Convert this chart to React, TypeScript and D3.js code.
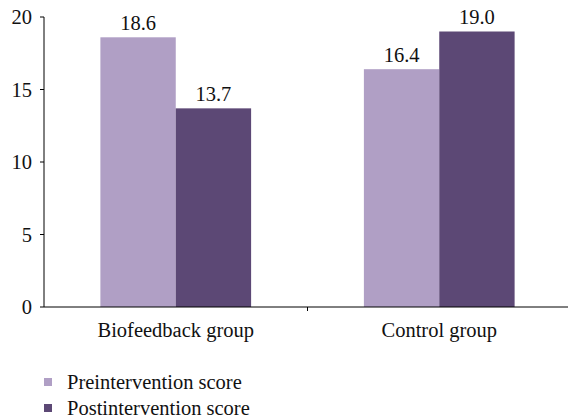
import React from "react";
import * as d3 from "d3";

const categories = ["Biofeedback group", "Control group"];
const seriesNames = ["Preintervention score", "Postintervention score"];
const preValues = [18.6, 16.4];
const postValues = [13.7, 19.0];
const yTicks = [0, 5, 10, 15, 20];
const colors = ["#b09fc5", "#5c4875"];

const W = 568;
const H = 419;
const FONT = '"Liberation Serif", "DejaVu Serif", serif';

export default function App() {
  const x0 = d3.scaleBand<string>().domain(categories).range([44, 571]).paddingInner(0).paddingOuter(0);
  const bw = x0.bandwidth();
  const barW = bw * 0.286;
  const y = d3.scaleLinear().domain([0, 20]).range([307, 17]);
  const series = [preValues, postValues];
  const fs = 20.5;

  return (
    <svg width={W} height={H} style={{ position: "absolute", left: 0, top: 0, background: "#fff", fontFamily: FONT }}>
      {categories.map((c, i) => {
        const cx = (x0(c) as number) + bw / 2;
        return (
          <g key={c}>
            {series.map((vals, s) => {
              const v = vals[i];
              const bx = cx - barW + s * barW;
              return (
                <g key={s}>
                  <rect x={bx} y={y(v)} width={barW} height={y(0) - y(v)} fill={colors[s]} />
                  <text x={bx + barW / 2} y={y(v) - 7.5} textAnchor="middle" fontSize={fs} fill="#111">
                    {v.toFixed(1)}
                  </text>
                </g>
              );
            })}
            <text x={cx} y={337} textAnchor="middle" fontSize={fs} fill="#111">
              {c}
            </text>
          </g>
        );
      })}
      {/* y axis */}
      <line x1={44} x2={44} y1={y(20)} y2={y(0)} stroke="#000" strokeWidth={1} />
      {yTicks.map((t) => (
        <g key={t}>
          <line x1={40} x2={44} y1={y(t)} y2={y(t)} stroke="#000" strokeWidth={1} />
          <text x={32} y={y(t) + 7} textAnchor="end" fontSize={fs} fill="#111">
            {t}
          </text>
        </g>
      ))}
      {/* x axis */}
      <line x1={44} x2={571} y1={y(0)} y2={y(0)} stroke="#000" strokeWidth={1} />
      {categories.map((c) => (
        <line key={c} x1={(x0(c) as number) + bw} x2={(x0(c) as number) + bw} y1={y(0)} y2={y(0) + 4} stroke="#000" />
      ))}
      {/* legend */}
      {seriesNames.map((n, i) => (
        <g key={n}>
          <rect x={44} y={378 + i * 26} width={8} height={8} fill={colors[i]} />
          <text x={67} y={389 + i * 26} fontSize={fs} fill="#111">
            {n}
          </text>
        </g>
      ))}
    </svg>
  );
}
